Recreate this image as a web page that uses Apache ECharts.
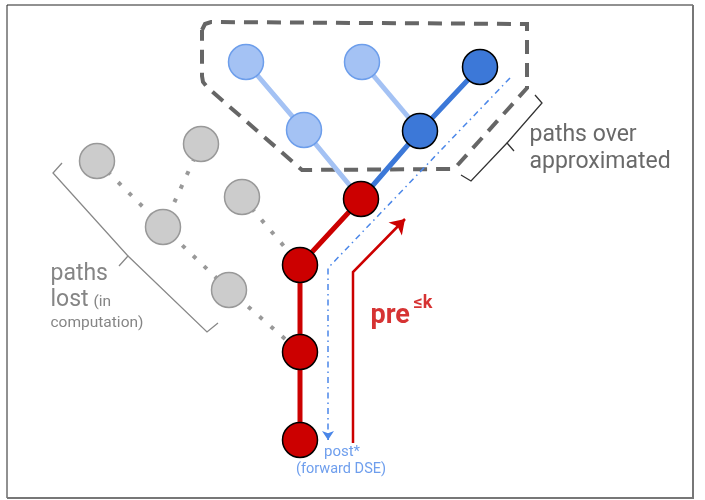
<!DOCTYPE html>
<html><head><meta charset="utf-8">
<script src="https://cdn.jsdelivr.net/npm/echarts@6/dist/echarts.min.js"></script>
<style>html,body{margin:0;padding:0;background:#fff}#c{width:705px;height:500px}</style>
</head><body><div id="c"></div>
<script>
// ---- diagram data (node centres in picture units) ----
const redNodes = [[300,440],[300,352],[300,265],[361,199]];
const darkBlueNodes = [[420,131],[480,67]];
const lightBlueNodes = [[246,62],[362,62],[304,130]];
const grayNodes = [[97,161],[201,144],[163,227],[242,197],[229,290]];

const redPaths = [[redNodes[0], redNodes[1], redNodes[2], redNodes[3]]];
const darkBluePaths = [[redNodes[3], darkBlueNodes[0], darkBlueNodes[1]]];
const lightBluePaths = [[redNodes[3], lightBlueNodes[2], lightBlueNodes[0]], [darkBlueNodes[0], lightBlueNodes[1]]];
const lostPaths = [[grayNodes[0], grayNodes[2], grayNodes[4], redNodes[1]], [grayNodes[1], grayNodes[2]], [grayNodes[3], redNodes[2]]];

const overApproxRegion = [[202,30],[205,24],[211,22],[527,24],[527,88],[454,169],[302,170],[207,87],[203,82],[202,76],[202,30]];
const postPath = [[510,78],[328,268],[328,440]];
const prePath = [[353,443],[353,272],[405,219]];
const lostBrace = [[[62,163],[53,173],[128,256],[119,266]], [[128,256],[207,332],[218,323]]];
const overBrace = [[[535,95],[542,103],[507,143],[514,151]], [[507,143],[471,181],[461,175]]];

const darkTexts = [[529,135,'paths over'],[529,162,'approximated']];
const grayBigTexts = [[50,274,'paths'],[50,300,'lost']];
const graySmallTexts = [[93,302,'(in'],[50,323,'computation)']];
const preText = [[370,316,'pre']];
const supText = [[413,303,'≤k']];
const postText = [[342,452,'post*']];
const dseText = [[341,469,'(forward DSE)']];

const frameShade = [[[693,5],[693,498],[7,498]]];

// ---- helpers ----
function pathSeries(paths, lineStyle, z) {
  return {type:'lines', coordinateSystem:'cartesian2d', polyline:true, silent:true, z:z||2,
    lineStyle:Object.assign({opacity:1}, lineStyle), data:paths.map(p=>({coords:p}))};
}
function arrowHead(path, color, size, z) {
  const a = path[path.length-2], b = path[path.length-1];
  const dx = b[0]-a[0], dy = b[1]-a[1], L = Math.hypot(dx,dy);
  const s = [b[0]-dx/L*3, b[1]-dy/L*3];
  return {type:'lines', coordinateSystem:'cartesian2d', silent:true, z:z||3,
    symbol:['none','arrow'], symbolSize:size,
    lineStyle:{color:color, width:1, type:'solid', opacity:1}, data:[{coords:[s,b]}]};
}
function nodeSeries(nodes, fill, border, bw) {
  return {type:'scatter', silent:true, z:5, symbol:'circle', symbolSize:35,
    itemStyle:{color:fill, borderColor:border, borderWidth:bw, opacity:1},
    data:nodes};
}
function textSeries(items, font, pos) {
  return {type:'scatter', silent:true, z:6, symbolSize:1, itemStyle:{color:'transparent'},
    data:items.map(t=>({value:[t[0],t[1]], name:t[2]})),
    label:Object.assign({show:true, formatter:p=>p.name, fontFamily:'Roboto'}, pos, font)};
}
const leftPos = {position:'right', distance:0, align:'left', verticalAlign:'middle'};
const midPos = {position:'inside', align:'center', verticalAlign:'middle'};

const chart = echarts.init(document.getElementById('c'), null, {renderer:'canvas'});
chart.setOption({
  animation:false,
  backgroundColor:'#ffffff',
  grid:{left:7, right:12, top:5, bottom:2, show:true, borderColor:'#222', borderWidth:1, backgroundColor:'#fff'},
  xAxis:{type:'value', min:7, max:693, show:false},
  yAxis:{type:'value', min:5, max:498, inverse:true, show:false},
  series:[
    pathSeries(frameShade, {color:'#777', width:2}, 1),
    pathSeries([overApproxRegion], {color:'#666', width:4, type:[14,9]}, 2),
    pathSeries(lostBrace, {color:'#888', width:1.3}, 2),
    pathSeries(overBrace, {color:'#333', width:1.3}, 2),
    pathSeries(lostPaths, {color:'#999', width:4, type:[4,11]}, 2),
    pathSeries(lightBluePaths, {color:'#a4c2f4', width:5}, 3),
    pathSeries(darkBluePaths, {color:'#3c78d8', width:5}, 3),
    pathSeries(redPaths, {color:'#cc0000', width:5}, 3),
    pathSeries([postPath], {color:'#4a86e8', width:1.5, type:[6,4,1.5,4]}, 3),
    arrowHead(postPath, '#4a86e8', [7,9], 3),
    pathSeries([prePath], {color:'#cc0000', width:2.5}, 3),
    arrowHead(prePath, '#cc0000', [12,14], 3),
    nodeSeries(grayNodes, '#cccccc', '#999999', 1.5),
    nodeSeries(lightBlueNodes, '#a4c2f4', '#6d9eeb', 1.5),
    nodeSeries(darkBlueNodes, '#3c78d8', '#000000', 1.5),
    nodeSeries(redNodes, '#cc0000', '#000000', 1.5),
    textSeries(darkTexts, {fontSize:23, color:'#444'}, leftPos),
    textSeries(grayBigTexts, {fontSize:23, color:'#666'}, leftPos),
    textSeries(graySmallTexts, {fontSize:15.5, color:'#666'}, leftPos),
    textSeries(preText, {fontSize:27, fontWeight:'bold', color:'#cc0000'}, leftPos),
    textSeries(supText, {fontSize:18, fontWeight:'bold', color:'#cc0000'}, leftPos),
    textSeries(postText, {fontSize:15, color:'#4a86e8'}, midPos),
    textSeries(dseText, {fontSize:14.5, color:'#4a86e8'}, midPos)
  ]
});
</script></body></html>
